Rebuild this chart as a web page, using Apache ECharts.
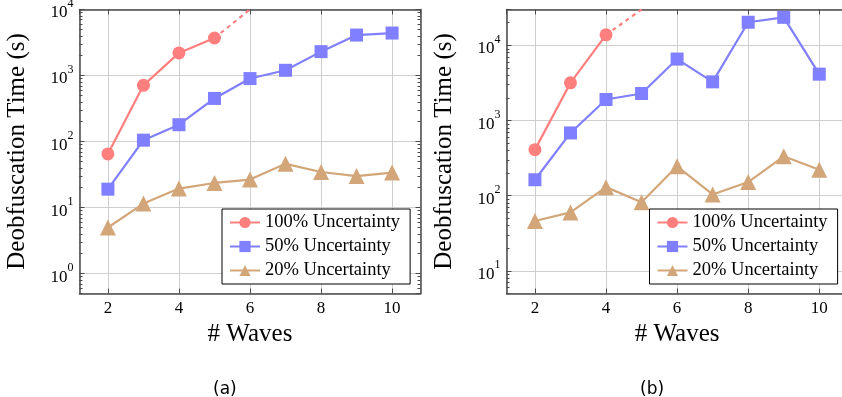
<!DOCTYPE html>
<html>
<head>
<meta charset="utf-8">
<script src="https://cdn.jsdelivr.net/npm/echarts@6/dist/echarts.min.js"></script>
<style>html,body{margin:0;padding:0;background:#fff}#c{width:842px;height:397px}</style>
</head>
<body>
<div id="c"></div>
<script>
// ---- data ----
const waves = [2, 3, 4, 5, 6, 7, 8, 9, 10];
const seriesNames = ['100% Uncertainty', '50% Uncertainty', '20% Uncertainty'];
// panel (a)
const a100 = [65, 710, 2200, 3700];
const a50 = [19, 105, 180, 450, 900, 1200, 2300, 4100, 4400];
const a20 = [5, 11.5, 19.4, 23.6, 26.6, 46, 34.6, 30, 33.9];
const aTrendX = [5, 6];
const aTrendY = [3700, 10000];
// panel (b)
const b100 = [410, 3170, 13800];
const b50 = [163, 684, 1905, 2290, 6570, 3270, 20300, 23600, 4140];
const b20 = [46, 60, 130, 82, 246, 104, 152, 334, 222];
const bTrendX = [4, 5];
const bTrendY = [13800, 30000];
// axes
const xMin = 1.2, xMax = 10.8;
const aYMin = 0.5, aYMax = 10000;
const bYMin = 5, bYMax = 30000;
const xTitle = '# Waves';
const yTitle = 'Deobfuscation Time (s)';
const captions = ['(a)', '(b)'];

// ---- styling ----
const SERIF = 'Liberation Serif';
const colors = ['#FF7F7F', '#7F7FFF', '#D2A679'];
const symbols = ['circle', 'rect', 'triangle'];
const symSizes = [13, 13, 16];
const frameColor = '#4a4a4a';
const gridColor = '#cfcfcf';

function minorTicks(min, max) {
  const out = [];
  for (let k = -2; k <= 6; k++) {
    for (let m = 2; m <= 9; m++) {
      const v = m * Math.pow(10, k);
      if (v >= min * 0.9999 && v <= max * 1.0001) out.push(+v.toPrecision(6));
    }
  }
  return out;
}
function yLabel(v) {
  const e = Math.log10(v);
  const r = Math.round(e);
  if (Math.abs(e - r) > 1e-6) return '';
  return '{b|10}{s|' + r + '}';
}
const pairs = (xs, ys) => ys.map((y, i) => [xs[i], y]);

function xAxes(gi) {
  return [
    {
      gridIndex: gi, type: 'value', min: xMin, max: xMax, position: 'bottom',
      name: xTitle, nameLocation: 'middle', nameGap: 28,
      nameTextStyle: { fontFamily: SERIF, fontSize: 25, color: '#000' },
      axisLine: { show: true, onZero: false, lineStyle: { color: frameColor, width: 1.5 } },
      axisTick: { show: true, inside: true, length: 5, lineStyle: { color: frameColor, width: 1 } },
      axisLabel: { showMinLabel: false, showMaxLabel: false, fontFamily: SERIF, fontSize: 17, color: '#000', margin: 7 },
      splitLine: { show: true, lineStyle: { color: gridColor, width: 1 } }
    },
    {
      gridIndex: gi, type: 'value', min: xMin, max: xMax, position: 'top',
      axisLine: { show: true, onZero: false, lineStyle: { color: frameColor, width: 1.5 } },
      axisTick: { show: true, inside: true, length: 5, lineStyle: { color: frameColor, width: 1 } },
      axisLabel: { show: false },
      splitLine: { show: false }
    }
  ];
}
function yAxes(gi, min, max) {
  const base = { gridIndex: gi, type: 'log', logBase: 10, min: min, max: max };
  const minor = minorTicks(min, max);
  return [
    Object.assign({}, base, {
      position: 'left',
      name: yTitle, nameLocation: 'middle', nameGap: 50,
      nameTextStyle: { fontFamily: SERIF, fontSize: 25, color: '#000' },
      axisLine: { show: true, onZero: false, lineStyle: { color: frameColor, width: 1.5 } },
      axisTick: { show: true, inside: true, length: 5, lineStyle: { color: frameColor, width: 1 } },
      axisLabel: {
        formatter: yLabel, showMinLabel: false, margin: 6, color: '#000',
        rich: {
          b: { fontFamily: SERIF, fontSize: 17, color: '#000', lineHeight: 24, verticalAlign: 'bottom' },
          s: { fontFamily: SERIF, fontSize: 12, color: '#000', lineHeight: 24, verticalAlign: 'top' }
        }
      },
      splitLine: { show: true, lineStyle: { color: gridColor, width: 1 } }
    }),
    Object.assign({}, base, {
      position: 'left',
      axisLine: { show: false },
      axisTick: { show: true, inside: true, length: 3, customValues: minor, lineStyle: { color: frameColor, width: 1 } },
      axisLabel: { show: false },
      splitLine: { show: false }
    }),
    Object.assign({}, base, {
      position: 'right',
      axisLine: { show: true, onZero: false, lineStyle: { color: frameColor, width: 1.5 } },
      axisTick: { show: true, inside: true, length: 5, lineStyle: { color: frameColor, width: 1 } },
      axisLabel: { show: false },
      splitLine: { show: false }
    }),
    Object.assign({}, base, {
      position: 'right',
      axisLine: { show: false },
      axisTick: { show: true, inside: true, length: 3, customValues: minor, lineStyle: { color: frameColor, width: 1 } },
      axisLabel: { show: false },
      splitLine: { show: false }
    })
  ];
}
function mkSeries(idx, data, xi, yi) {
  return {
    name: seriesNames[idx], type: 'line', xAxisIndex: xi, yAxisIndex: yi,
    data: data, symbol: symbols[idx], symbolSize: symSizes[idx],
    itemStyle: { color: colors[idx] },
    lineStyle: { color: colors[idx], width: 2.2 },
    animation: false, z: 5 - idx
  };
}
function trend(xs, ys, xi, yi) {
  return {
    name: 'trend', type: 'line', xAxisIndex: xi, yAxisIndex: yi,
    data: pairs(xs, ys), showSymbol: false, symbol: 'none',
    lineStyle: { color: colors[0], width: 2.2, type: [4, 4] },
    animation: false, z: 4
  };
}
function legend(left) {
  return {
    left: left, top: 209, orient: 'vertical',
    data: seriesNames,
    padding: [4, 10, 4, 7], itemGap: 5, itemWidth: 30, itemHeight: 14,
    borderColor: '#000', borderWidth: 1, backgroundColor: '#fff',
    textStyle: { fontFamily: SERIF, fontSize: 18.5, color: '#000' },
    selectedMode: false
  };
}

const chart = echarts.init(document.getElementById('c'), null, { renderer: 'canvas' });
chart.setOption({
  backgroundColor: '#fff',
  animation: false,
  grid: [
    { left: 79.5, right: 421.5, top: 9.5, bottom: 103.5, outerBoundsMode: 'none' },
    { left: 506.5, right: -5.7, top: 9.5, bottom: 103.5, outerBoundsMode: 'none' }
  ],
  xAxis: [].concat(xAxes(0), xAxes(1)),
  yAxis: [].concat(yAxes(0, aYMin, aYMax), yAxes(1, bYMin, bYMax)),
  legend: [legend(222), legend(649.5)],
  series: [
    mkSeries(0, pairs(waves, a100), 0, 0),
    mkSeries(1, pairs(waves, a50), 0, 0),
    mkSeries(2, pairs(waves, a20), 0, 0),
    trend(aTrendX, aTrendY, 0, 0),
    mkSeries(0, pairs(waves, b100), 2, 4),
    mkSeries(1, pairs(waves, b50), 2, 4),
    mkSeries(2, pairs(waves, b20), 2, 4),
    trend(bTrendX, bTrendY, 2, 4)
  ],
  graphic: [
    { type: 'text', left: 213, top: 381, style: { text: captions[0], font: '17px "DejaVu Sans"', fill: '#000', textAlign: 'center', textVerticalAlign: 'middle' } },
    { type: 'text', left: 640, top: 381, style: { text: captions[1], font: '17px "DejaVu Sans"', fill: '#000', textAlign: 'center', textVerticalAlign: 'middle' } }
  ]
});
</script>
</body>
</html>
